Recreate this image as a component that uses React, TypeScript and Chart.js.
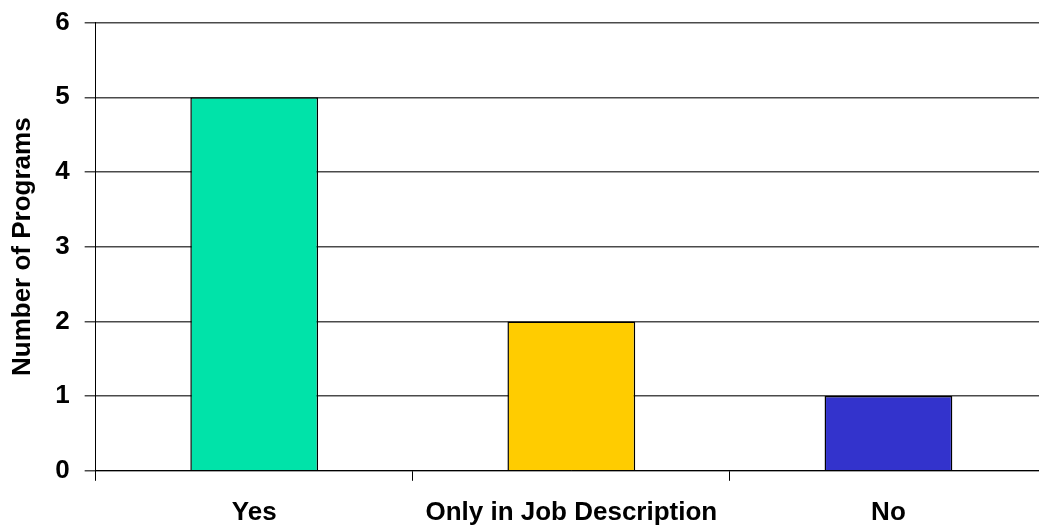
import React, { useEffect, useRef } from "react";
import { Chart, registerables } from "chart.js";

Chart.register(...registerables);

const categories = ["Yes", "Only in Job Description", "No"];
const programCounts = [5, 2, 1];
const barColors = ["#00E3A9", "#FFCC00", "#3333CC"];
const yTicks = [0, 1, 2, 3, 4, 5, 6];

const FONT = "Arial, 'Liberation Sans', Helvetica, sans-serif";

export default function App() {
  const canvasRef = useRef<HTMLCanvasElement | null>(null);

  useEffect(() => {
    if (!canvasRef.current) return;
    const chart = new Chart(canvasRef.current, {
      type: "bar",
      data: {
        labels: categories,
        datasets: [
          {
            label: "Number of Programs",
            data: programCounts,
            backgroundColor: barColors,
            borderColor: "#000000",
            borderWidth: 1.5,
            categoryPercentage: 1,
            barPercentage: 0.403,
          },
        ],
      },
      options: {
        responsive: false,
        animation: false,
        devicePixelRatio: 1,
        layout: { padding: { left: 3, top: 4, right: 13, bottom: 6 } },
        plugins: {
          legend: { display: false },
          tooltip: { enabled: false },
        },
        scales: {
          x: {
            offset: true,
            grid: {
              display: true,
              offset: true,
              drawOnChartArea: false,
              drawTicks: true,
              tickLength: 10,
              color: "#000000",
            },
            border: { display: true, color: "#000000", width: 1 },
            ticks: {
              color: "#000000",
              padding: 16,
              maxRotation: 0,
              autoSkip: false,
              font: { family: FONT, size: 26, weight: "bold" },
            },
          },
          y: {
            min: 0,
            max: 6,
            afterBuildTicks: (axis: any) => {
              axis.ticks = yTicks.map((v) => ({ value: v }));
            },
            grid: {
              color: "#4a4a4a",
              lineWidth: 1.5,
              drawTicks: true,
              tickLength: 11,
            },
            border: { display: true, color: "#000000", width: 1 },
            ticks: {
              color: "#000000",
              padding: 15,
              font: { family: FONT, size: 26, weight: "bold" },
            },
            title: {
              display: true,
              text: "Number of Programs",
              color: "#000000",
              padding: { top: 4, bottom: 2 },
              font: { family: FONT, size: 26, weight: "bold" },
            },
          },
        },
      },
    });
    return () => chart.destroy();
  }, []);

  return (
    <div
      style={{
        position: "fixed",
        left: 0,
        top: 0,
        width: 1039,
        height: 527,
        overflow: "hidden",
        background: "#ffffff",
      }}
    >
      <canvas
        ref={canvasRef}
        width={1060}
        height={558}
        style={{ display: "block", width: 1060, height: 558, marginTop: -8 }}
      />
    </div>
  );
}
